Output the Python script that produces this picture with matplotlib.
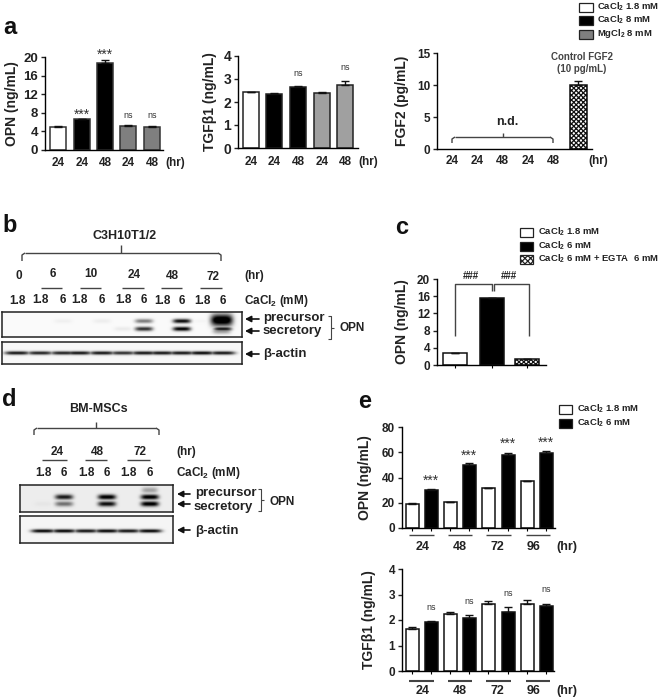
import matplotlib
matplotlib.use('Agg')
import matplotlib.pyplot as plt
from matplotlib.patches import Rectangle
import numpy as np

plt.rcParams['font.family'] = ['Liberation Sans', 'DejaVu Sans']
plt.rcParams['font.weight'] = 'bold'
plt.rcParams['mathtext.fontset'] = 'custom'
plt.rcParams['mathtext.bf'] = 'Liberation Sans:bold'
plt.rcParams['mathtext.rm'] = 'Liberation Sans:bold'
plt.rcParams['hatch.linewidth'] = 0.9

# panel a
a_hours = ['24', '24', '48', '24', '48']
a_opn = [4.9, 6.6, 18.8, 5.2, 4.9]
a_opn_err = [0.2, 0.1, 0.5, 0.1, 0.2]
a_opn_sig = ['', '***', '***', 'ns', 'ns']
a_tgf = [2.43, 2.36, 2.66, 2.40, 2.72]
a_tgf_err = [0.02, 0.04, 0.02, 0.05, 0.18]
a_fgf_control = [10.0]
a_fgf_err = [0.7]

# panel b blot, band strength per lane (0 to 1)
b_lanes = ['1.8', '1.8', '6', '1.8', '6', '1.8', '6', '1.8', '6', '1.8', '6']
b_hours = ['0', '6', '10', '24', '48', '72']
b_precursor = [0, 0, 0.04, 0, 0.05, 0, 0.5, 0, 0.95, 0.02, 1.0]
b_secretory = [0, 0, 0, 0, 0, 0.06, 0.8, 0, 1.0, 0, 0.9]
b_actin = [0.9, 0.85, 0.85, 0.9, 0.9, 0.8, 0.9, 0.9, 0.9, 0.95, 0.9]

# panel c
c_opn = [2.8, 15.5, 1.5]
c_opn_err = [0, 0.15, 0]

# panel d blot
d_lanes = ['1.8', '6', '1.8', '6', '1.8', '6']
d_hours = ['24', '48', '72']
d_precursor = [0, 0.85, 0, 1.0, 0, 1.0]
d_secretory = [0.03, 0.5, 0, 0.9, 0, 1.0]
d_actin = [0.95, 0.95, 0.9, 0.95, 0.9, 0.95]

# panel e
e_hours = ['24', '48', '72', '96']
e_opn_low = [19.3, 20.7, 31.5, 37.3]
e_opn_low_err = [0.5, 0.2, 0.2, 0.2]
e_opn_high = [30.0, 50.0, 58.0, 59.5]
e_opn_high_err = [0.7, 1.8, 1.5, 1.7]
e_tgf_low = [1.63, 2.25, 2.62, 2.63]
e_tgf_low_err = [0.08, 0.08, 0.13, 0.17]
e_tgf_high = [1.93, 2.08, 2.33, 2.55]
e_tgf_high_err = [0.03, 0.13, 0.17, 0.08]

W, H = 660, 699
INK = '#222222'
GRAY = '#444444'

fig = plt.figure(figsize=(W/100, H/100), dpi=100)
page = fig.add_axes([0, 0, 1, 1], zorder=10)
page.set_xlim(0, W)
page.set_ylim(H, 0)
page.axis('off')
page.patch.set_alpha(0)


def px_axes(x0, x1, ytop, ybot):
    return fig.add_axes([x0/W, 1-ybot/H, (x1-x0)/W, (ybot-ytop)/H])


def txt(x, y, s, size=8, ha='center', color=INK, **kw):
    page.text(x, y, s, fontsize=size, ha=ha, va='center', color=color, **kw)


def line(xs, ys, lw=1.0, color=GRAY):
    page.plot(xs, ys, color=color, lw=lw, solid_capstyle='butt', solid_joinstyle='round')


def stars(x, y):
    # the asterisks sit high in the font, so the text is pulled down a bit
    txt(x, y+2, '***', size=10, color='#333333', fontweight='normal')


def bar_axes(x0, x1, ytop, ybot, ymax, ticks, ylabel, label_x, ticksize=8.5):
    ax = px_axes(x0, x1, ytop, ybot)
    ax.set_xlim(x0, x1)
    ax.set_ylim(0, ymax)
    ax.set_yticks(ticks)
    ax.spines['top'].set_visible(False)
    ax.spines['right'].set_visible(False)
    ax.spines['left'].set_linewidth(1.0)
    ax.spines['bottom'].set_linewidth(1.0)
    ax.tick_params(axis='y', length=3, width=1, labelsize=ticksize, pad=2, colors=INK)
    ax.tick_params(axis='x', length=2, width=0.8, labelbottom=False)
    ax.patch.set_alpha(0)
    txt(label_x, (ytop+ybot)/2, ylabel, size=10, rotation=90)
    return ax


def bars(ax, xs, vals, errs, width, face, edge='#111111', **kw):
    ax.bar(xs, vals, width=width, color=face, edgecolor=edge, linewidth=1.1, **kw)
    ax.errorbar(xs, vals, yerr=[np.zeros(len(vals)), errs], fmt='none', ecolor='#111111',
                elinewidth=1.0, capsize=3, capthick=1.0, zorder=1)


def bar_axis_labels(xs, labels, y, unit_x, size=8.5):
    for x, s in zip(xs, labels):
        txt(x, y, s, size=size)
    txt(unit_x, y, '(hr)', size=size)


def legend(x0, x1, text_x, rows, size=6.8):
    for y, face, hatch, s in rows:
        page.add_patch(Rectangle((x0, y-4.5), x1-x0, 9, facecolor=face, edgecolor='#222222',
                                 lw=0.9, hatch=hatch))
        txt(text_x, y, s, size=size, ha='left')


def arrow_left(tip, tail, y):
    page.annotate('', xy=(tip, y), xytext=(tail, y),
                  arrowprops=dict(arrowstyle='-|>,head_length=0.35,head_width=0.18', color='#111111',
                                  lw=1.2, shrinkA=0, shrinkB=0))


def curly(x0, x1, ytop, ybot):
    # side brace used next to the blots
    ym = (ytop+ybot)/2
    line([x0, x0+3, x0+3, x1], [ytop, ytop, ym, ym], lw=0.8)
    line([x0, x0+3, x0+3], [ybot, ybot, ym], lw=0.8)


def wide_bracket(x0, x1, ytop, ybot, xmid, ystem):
    line([x0, x0, x0+3], [ybot, ytop+2, ytop], lw=1.0)
    line([x0+3, x1-3], [ytop, ytop], lw=1.0)
    line([x1-3, x1, x1], [ytop, ytop+2, ybot], lw=1.0)
    line([xmid, xmid], [ystem, ytop], lw=1.0)


def blot(x0, x1, ytop, ybot, bands, bg):
    ax = px_axes(x0, x1, ytop, ybot)
    xx, yy = np.meshgrid(np.linspace(x0, x1, (x1-x0)*2), np.linspace(ytop, ybot, (ybot-ytop)*2))
    dark = np.zeros_like(xx)
    for cx, cy, s, wx, wy in bands:
        # max, not sum, so neighbouring lanes do not make dark spots where they meet
        dark = np.maximum(dark, s*np.exp(-((xx-cx)/wx)**4 - ((yy-cy)/wy)**2))
    img = np.clip(bg - dark, 0, 1)
    ax.imshow(img, cmap='gray', vmin=0, vmax=1, extent=[x0, x1, ybot, ytop], aspect='auto')
    ax.set_xticks([])
    ax.set_yticks([])
    for sp in ax.spines.values():
        sp.set_linewidth(1.1)
        sp.set_color('#222222')
    return ax


# ---------- panel a ----------
txt(3, 27, 'a', size=17, ha='left', color='#111111')

x_a1 = [58, 82, 105, 128, 152]
ax = bar_axes(45, 163, 57, 150, 20, [0, 4, 8, 12, 16, 20], 'OPN (ng/mL)', 12, ticksize=9.5)
for i in range(5):
    face = ['white', 'black', 'black', '#7f7f7f', '#7f7f7f'][i]
    bars(ax, [x_a1[i]], [a_opn[i]], [a_opn_err[i]], 16, face, edge='#333333')
ax.set_xticks(x_a1)
ax.tick_params(axis='x', length=0)
bar_axis_labels(x_a1, a_hours, 163, 175)
for x, s, y in zip(x_a1, a_opn_sig, [0, 113, 53, 116, 116]):
    if s == '***':
        stars(x, y)
    elif s:
        txt(x, y, s, size=6.5, color='#333333', fontweight='normal')

x_a2 = [251, 274, 298, 322, 345]
ax = bar_axes(238, 358, 56, 148, 4, [0, 1, 2, 3, 4], 'TGF\u03b21 (ng/mL)', 210, ticksize=10)
for i in range(5):
    face = ['white', 'black', 'black', '#a0a0a0', '#a0a0a0'][i]
    bars(ax, [x_a2[i]], [a_tgf[i]], [a_tgf_err[i]], 16, face, edge='#222222')
ax.set_xticks(x_a2)
ax.tick_params(axis='x', length=0)
bar_axis_labels(x_a2, a_hours, 162, 368)
txt(298, 73, 'ns', size=6.5, color='#333333', fontweight='normal')
txt(345, 68, 'ns', size=6.5, color='#333333', fontweight='normal')

x_a3 = [452, 477, 502, 528, 553]
ax = bar_axes(437, 592, 53, 149, 15, [0, 5, 10, 15], 'FGF2 (pg/mL)', 402)
bars(ax, [578], a_fgf_control, a_fgf_err, 17, 'white', hatch='xxxxxxx')
ax.set_xticks([])
bar_axis_labels(x_a3, a_hours, 161, 598)
wide_bracket(452, 553, 137, 143, 503, 133)
txt(507, 122, 'n.d.', size=9)
txt(582, 57, 'Control FGF2', size=7, color=GRAY)
txt(582, 69, '(10 pg/mL)', size=7, color=GRAY)

legend(579, 593, 597, [
    (7, 'white', None, r'CaCl$_{\mathbf{2}}$ 1.8 mM'),
    (20, 'black', None, r'CaCl$_{\mathbf{2}}$ 8 mM'),
    (34, '#7f7f7f', None, r'MgCl$_{\mathbf{2}}$ 8 mM'),
])

# ---------- panel b ----------
txt(2, 226, 'b', size=17, ha='left', color='#111111')
txt(125, 236, 'C3H10T1/2', size=9)
wide_bracket(22, 221, 253, 261, 121, 245)

b_lane_x = [17, 40, 63, 79, 102, 123, 144, 162, 182, 202, 223]
b_lane_y = [301, 300, 300, 300, 300, 300, 300, 301, 301, 301, 301]
for x, y, s in zip(b_lane_x, b_lane_y, b_lanes):
    txt(x, y, s, size=8.5)
for x, y, s in zip([19, 53, 91, 134, 172, 213], [276, 274, 274, 275, 276, 277], b_hours):
    txt(x, y, s, size=8.5)
for x0, x1 in [(41, 62), (80, 101), (122, 144), (161, 182), (200, 222)]:
    line([x0, x1], [288, 288], lw=1.0)
txt(244, 276, '(hr)', size=8.5, ha='left')
txt(244, 301, r'CaCl$_{\mathbf{2}}$ (mM)', size=8.5, ha='left')

bands = []
for x, s in zip(b_lane_x, b_precursor):
    if s:
        bands.append((x, 321, s, 9, 2.2))
for x, s in zip(b_lane_x, b_secretory):
    if s:
        bands.append((x, 329, s, 9, 2.2))
bands.append((222, 320, 1.2, 11, 6))
bands.append((222, 331, 0.4, 9, 3))
blot(2, 242, 312, 337, bands, 0.98)
blot(2, 242, 342, 364, [(x, 353, s, 12.5, 1.8) for x, s in zip(b_lane_x, b_actin)], 0.97)

arrow_left(245, 259, 319)
arrow_left(245, 259, 331)
arrow_left(245, 259, 354)
txt(263, 318, 'precursor', size=9.5, ha='left')
txt(263, 331, 'secretory', size=9.5, ha='left')
txt(263, 354, '\u03b2-actin', size=9.5, ha='left')
curly(328, 334, 316, 339)
txt(339, 328, 'OPN', size=8.5, ha='left')

# ---------- panel c ----------
txt(395, 228, 'c', size=17, ha='left', color='#111111')
x_c = [455, 492, 527]
ax = bar_axes(437, 546, 279, 365, 20, [0, 4, 8, 12, 16, 20], 'OPN (ng/mL)', 402)
bars(ax, [x_c[0]], [c_opn[0]], [c_opn_err[0]], 24, 'white')
bars(ax, [x_c[1]], [c_opn[1]], [c_opn_err[1]], 24, 'black')
bars(ax, [x_c[2]], [c_opn[2]], [c_opn_err[2]], 24, 'white', hatch='xxxxxxx')
ax.set_xticks(x_c)

line([455, 455, 492, 492], [336, 284, 284, 291], lw=1.0)
line([494, 494, 529, 529], [291, 284, 284, 336], lw=1.0)
txt(471, 276, '###', size=7)
txt(509, 276, '###', size=7)
legend(520, 533, 538, [
    (232, 'white', None, r'CaCl$_{\mathbf{2}}$ 1.8 mM'),
    (246, 'black', None, r'CaCl$_{\mathbf{2}}$ 6 mM'),
    (259, 'white', 'xxxxxx', r'CaCl$_{\mathbf{2}}$ 6 mM + EGTA  6 mM'),
])

# ---------- panel d ----------
txt(2, 400, 'd', size=17, ha='left', color='#111111')
txt(98, 409, 'BM-MSCs', size=9)
wide_bracket(34, 159, 428, 435, 96, 422)

d_lane_x = [43, 64, 86, 107, 128, 150]
for x, s in zip(d_lane_x, d_lanes):
    txt(x, 473, s, size=8.5)
for x, s in zip([57, 97, 140], d_hours):
    txt(x, 452, s, size=8.5)
for x0, x1 in [(42, 67), (85, 107), (127, 150)]:
    line([x0, x1], [460, 460], lw=1.0)
txt(176, 452, '(hr)', size=8.5, ha='left')
txt(176, 473, r'CaCl$_{\mathbf{2}}$ (mM)', size=8.5, ha='left')

bands = []
for x, s in zip(d_lane_x, d_precursor):
    if s:
        bands.append((x, 497, s, 9, 2.6))
for x, s in zip(d_lane_x, d_secretory):
    if s:
        bands.append((x, 504, s, 9, 2.6))
bands.append((150, 490, 0.3, 8, 3))
blot(20, 173, 485, 512, bands, 0.93)
blot(20, 173, 516, 543, [(x, 531, s, 12, 1.8) for x, s in zip(d_lane_x, d_actin)], 0.96)

arrow_left(177, 190, 494)
arrow_left(177, 190, 504)
arrow_left(177, 190, 530)
txt(195, 493, 'precursor', size=9.5, ha='left')
txt(194, 507, 'secretory', size=9.5, ha='left')
txt(195, 531, '\u03b2-actin', size=9.5, ha='left')
curly(258, 264, 489, 511)
txt(269, 502, 'OPN', size=8.5, ha='left')

# ---------- panel e ----------
txt(358, 401, 'e', size=17, ha='left', color='#111111')
x_low = [412, 450, 488, 527]
x_high = [431, 469, 508, 546]
label_x = [423, 460, 497, 534]
under = [(409, 434), (448, 472), (486, 511), (526, 550)]

ax = bar_axes(402, 555, 427, 528, 80, [0, 20, 40, 60, 80], 'OPN (ng/mL)', 365)
bars(ax, x_low, e_opn_low, e_opn_low_err, 13, 'white')
bars(ax, x_high, e_opn_high, e_opn_high_err, 13, 'black')
ax.set_xticks(x_low + x_high)
for x0, x1 in under:
    line([x0, x1], [535, 535], lw=1.0)
bar_axis_labels(label_x, e_hours, 547, 567, size=9)
for x, y in zip(x_high, [479, 454, 442, 441]):
    stars(x, y)

ax = bar_axes(402, 554, 569, 671, 4, [0, 1, 2, 3, 4], 'TGF\u03b21 (ng/mL)', 369)
bars(ax, x_low, e_tgf_low, e_tgf_low_err, 13, 'white')
bars(ax, x_high, e_tgf_high, e_tgf_high_err, 13, 'black')
ax.set_xticks(x_low + x_high)
for x0, x1 in under:
    line([x0, x1], [681, 681], lw=1.5)
bar_axis_labels(label_x, e_hours, 691, 567, size=9)
for x, y in zip(x_high, [608, 602, 594, 590]):
    txt(x, y, 'ns', size=6.5, color='#333333', fontweight='normal')

legend(559, 572, 577, [
    (409, 'white', None, r'CaCl$_{\mathbf{2}}$ 1.8 mM'),
    (423, 'black', None, r'CaCl$_{\mathbf{2}}$ 6 mM'),
])

page.set_xlim(0, W)
page.set_ylim(H, 0)
fig.savefig('out.png', dpi=100)
